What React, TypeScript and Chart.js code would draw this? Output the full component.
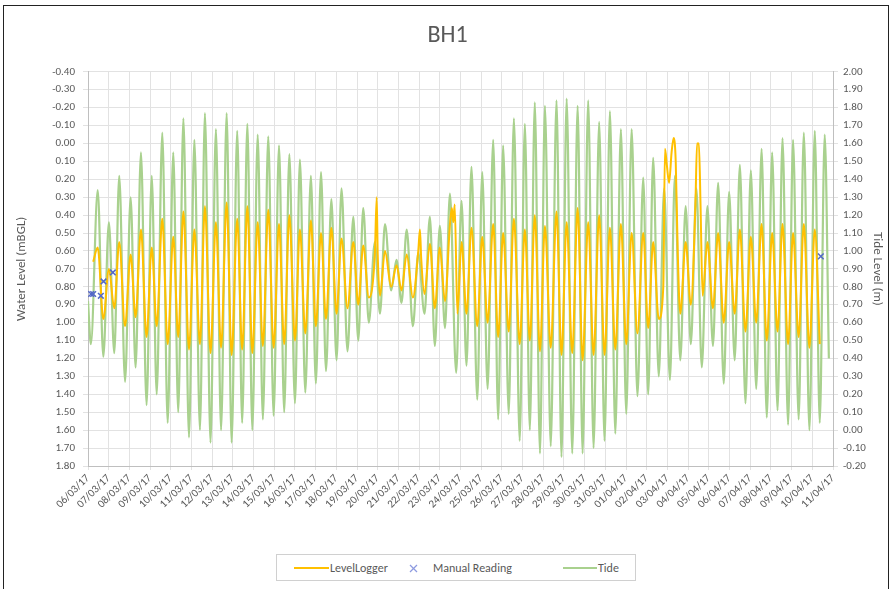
import React, { useEffect, useRef } from 'react';
import { Chart, registerables } from 'chart.js';

Chart.register(...registerables);

// ---------- DATA ----------
const dateLabels = [
  '06/03/17', '07/03/17', '08/03/17', '09/03/17', '10/03/17', '11/03/17', '12/03/17', '13/03/17',
  '14/03/17', '15/03/17', '16/03/17', '17/03/17', '18/03/17', '19/03/17', '20/03/17', '21/03/17',
  '22/03/17', '23/03/17', '24/03/17', '25/03/17', '26/03/17', '27/03/17', '28/03/17', '29/03/17',
  '30/03/17', '31/03/17', '01/04/17', '02/04/17', '03/04/17', '04/04/17', '05/04/17', '06/04/17',
  '07/04/17', '08/04/17', '09/04/17', '10/04/17', '11/04/17',
];

// Tide extremes: time in days since 06/03/17 00:00, level in m
const tideTimes = [
  0.00, 0.14, 0.47, 0.74, 1.01, 1.27, 1.51, 1.79, 2.06, 2.30,
  2.56, 2.83, 3.08, 3.32, 3.59, 3.85, 4.12, 4.36, 4.61, 4.88,
  5.14, 5.41, 5.65, 5.92, 6.18, 6.43, 6.70, 6.94, 7.21, 7.45,
  7.70, 7.94, 8.20, 8.45, 8.71, 8.97, 9.23, 9.48, 9.73, 10.00,
  10.24, 10.50, 10.77, 11.01, 11.26, 11.50, 11.76, 12.01, 12.25, 12.54,
  12.82, 13.06, 13.30, 13.57, 13.86, 14.11, 14.35, 14.65, 14.91, 15.15,
  15.40, 15.70, 15.96, 16.26, 16.52, 16.76, 17.00, 17.25, 17.49, 17.79,
  18.05, 18.29, 18.53, 18.81, 19.05, 19.31, 19.58, 19.82, 20.06, 20.33,
  20.58, 20.86, 21.11, 21.35, 21.59, 21.84, 22.08, 22.36, 22.64, 22.88,
  23.13, 23.40, 23.66, 23.90, 24.17, 24.43, 24.70, 24.96, 25.22, 25.48,
  25.75, 26.01, 26.27, 26.55, 26.83, 27.07, 27.31, 27.58, 27.84, 28.12,
  28.36, 28.62, 28.88, 29.13, 29.40, 29.66, 29.93, 30.20, 30.45, 30.72,
  30.98, 31.25, 31.50, 31.77, 32.03, 32.29, 32.55, 32.80, 33.06, 33.32,
  33.56, 33.83, 34.07, 34.34, 34.59, 34.86, 35.12, 35.36, 35.60, 35.80,
];
const tideLevels = [
  0.72, 0.48, 1.34, 0.41, 1.16, 0.43, 1.42, 0.27, 1.30, 0.35,
  1.55, 0.14, 1.42, 0.20, 1.66, 0.04, 1.55, 0.10, 1.74, -0.04,
  1.62, 0.00, 1.77, -0.07, 1.68, 0.00, 1.77, -0.07, 1.67, 0.04,
  1.71, 0.00, 1.65, 0.06, 1.64, 0.08, 1.59, 0.10, 1.54, 0.15,
  1.51, 0.21, 1.42, 0.26, 1.44, 0.33, 1.29, 0.39, 1.35, 0.44,
  1.19, 0.50, 1.24, 0.60, 1.05, 0.65, 1.15, 0.78, 0.95, 0.71,
  1.12, 0.58, 0.99, 0.65, 1.19, 0.47, 1.14, 0.57, 1.32, 0.32,
  1.28, 0.36, 1.47, 0.17, 1.44, 0.23, 1.62, 0.06, 1.59, 0.09,
  1.74, -0.06, 1.71, 0.00, 1.83, -0.13, 1.81, -0.09, 1.84, -0.15,
  1.85, -0.13, 1.81, -0.13, 1.84, -0.10, 1.72, -0.06, 1.78, -0.02,
  1.68, 0.09, 1.68, 0.19, 1.41, 0.20, 1.52, 0.30, 1.35, 0.28,
  1.42, 0.39, 1.25, 0.48, 1.35, 0.35, 1.25, 0.47, 1.38, 0.26,
  1.33, 0.39, 1.48, 0.15, 1.45, 0.23, 1.57, 0.07, 1.55, 0.11,
  1.63, 0.03, 1.62, 0.06, 1.66, 0.00, 1.67, 0.04, 1.65, 0.40,
];

// LevelLogger: time in days, water level in mBGL
const loggerTimes = [
  0.25, 0.47, 0.74, 1.01, 1.27, 1.51, 1.79, 2.06, 2.30, 2.56,
  2.83, 3.08, 3.32, 3.59, 3.85, 4.12, 4.36, 4.61, 4.88, 5.14,
  5.41, 5.65, 5.92, 6.18, 6.43, 6.70, 6.94, 7.21, 7.45, 7.70,
  7.94, 8.20, 8.45, 8.71, 8.97, 9.23, 9.48, 9.73, 10.00, 10.24,
  10.50, 10.77, 11.01, 11.26, 11.50, 11.76, 12.01, 12.25, 12.54, 12.82,
  13.06, 13.30, 13.57, 13.86, 13.95, 14.00, 14.11, 14.35, 14.65, 14.91,
  15.15, 15.40, 15.70, 15.96, 16.04, 16.10, 16.26, 16.52, 16.76, 17.00,
  17.25, 17.49, 17.58, 17.65, 17.72, 17.85, 18.05, 18.29, 18.53, 18.81,
  19.05, 19.31, 19.58, 19.82, 20.06, 20.33, 20.58, 20.86, 21.11, 21.35,
  21.59, 21.84, 22.08, 22.36, 22.64, 22.88, 23.13, 23.40, 23.66, 23.90,
  24.17, 24.43, 24.70, 24.96, 25.22, 25.48, 25.75, 26.01, 26.27, 26.55,
  26.83, 27.07, 27.31, 27.58, 27.80, 27.88, 27.97, 28.08, 28.20, 28.30,
  28.40, 28.50, 28.62, 28.88, 29.13, 29.35, 29.43, 29.52, 29.60, 29.70,
  29.93, 30.20, 30.45, 30.72, 30.98, 31.25, 31.50, 31.77, 32.03, 32.29,
  32.55, 32.80, 33.06, 33.32, 33.56, 33.83, 34.07, 34.34, 34.59, 34.86,
  35.12, 35.36,
];
const loggerLevels = [
  0.66, 0.58, 0.98, 0.70, 0.92, 0.55, 1.02, 0.62, 0.97, 0.48,
  1.08, 0.58, 1.02, 0.42, 1.12, 0.52, 1.08, 0.38, 1.15, 0.48,
  1.12, 0.35, 1.17, 0.44, 1.14, 0.33, 1.18, 0.42, 1.15, 0.35,
  1.17, 0.44, 1.13, 0.37, 1.14, 0.45, 1.12, 0.40, 1.10, 0.48,
  1.06, 0.43, 1.02, 0.50, 0.98, 0.47, 0.95, 0.53, 0.92, 0.55,
  0.90, 0.57, 0.86, 0.62, 0.30, 0.62, 0.85, 0.60, 0.80, 0.68,
  0.82, 0.62, 0.86, 0.60, 0.48, 0.64, 0.84, 0.56, 0.92, 0.58,
  0.88, 0.45, 0.36, 0.44, 0.34, 0.95, 0.55, 0.95, 0.47, 1.02,
  0.52, 1.00, 0.45, 1.08, 0.50, 1.05, 0.42, 1.12, 0.48, 1.10,
  0.40, 1.16, 0.46, 1.14, 0.38, 1.18, 0.44, 1.17, 0.36, 1.21,
  0.44, 1.18, 0.40, 1.18, 0.47, 1.15, 0.45, 1.12, 0.50, 1.06,
  0.50, 1.03, 0.55, 0.98, 0.80, 0.03, 0.12, 0.22, 0.05, -0.03,
  0.10, 0.62, 0.95, 0.55, 0.90, 0.35, 0.00, 0.00, 0.35, 0.85,
  0.55, 0.92, 0.50, 1.00, 0.55, 0.95, 0.48, 1.05, 0.52, 1.00,
  0.45, 1.10, 0.50, 1.05, 0.45, 1.12, 0.50, 1.08, 0.45, 1.14,
  0.48, 1.12,
];

// Manual readings: time in days, water level in mBGL
const manualTimes = [0.15, 0.25, 0.62, 0.75, 1.20, 35.41];
const manualLevels = [0.84, 0.84, 0.85, 0.77, 0.72, 0.63];

const waterAxis = { min: -0.4, max: 1.8, step: 0.1 };
const tideAxis = { min: -0.2, max: 2.0, step: 0.1 };

// ---------- STYLE ----------
const FONT = "Carlito, Calibri, Lato, 'Open Sans', sans-serif";
const TEXT = '#595959';
const GRID = '#e2e2e2';
const AXIS = '#bfbfbf';
const ORANGE = '#ffc000';
const GREEN = '#a9d18e';
const BLUE = '#5468c8';

function toPoints(xs: number[], ys: number[]) {
  return xs.map((x, i) => ({ x, y: ys[i] }));
}

export default function App() {
  const ref = useRef<HTMLCanvasElement | null>(null);

  useEffect(() => {
    if (!ref.current) return;
    Chart.defaults.font.family = FONT;
    const chart = new Chart(ref.current, {
      type: 'line',
      data: {
        datasets: [
          {
            label: 'Manual Reading',
            data: toPoints(manualTimes, manualLevels),
            yAxisID: 'y',
            showLine: false,
            pointStyle: 'crossRot',
            pointRadius: 4,
            pointBorderWidth: 1.5,
            borderColor: BLUE,
            backgroundColor: BLUE,
            order: 0,
          },
          {
            label: 'LevelLogger',
            data: toPoints(loggerTimes, loggerLevels),
            yAxisID: 'y',
            borderColor: ORANGE,
            backgroundColor: ORANGE,
            borderWidth: 2,
            pointRadius: 0,
            cubicInterpolationMode: 'monotone',
            order: 1,
          },
          {
            label: 'Tide',
            data: toPoints(tideTimes, tideLevels),
            yAxisID: 'y1',
            borderColor: GREEN,
            backgroundColor: GREEN,
            borderWidth: 2.2,
            pointRadius: 0,
            cubicInterpolationMode: 'monotone',
            order: 2,
          },
        ],
      },
      options: {
        responsive: false,
        animation: false,
        devicePixelRatio: 1,
        layout: { padding: 0 },
        plugins: {
          legend: { display: false },
          tooltip: { enabled: false },
          title: {
            display: true,
            text: 'BH1',
            color: TEXT,
            font: { family: FONT, size: 24, weight: 'normal' },
            padding: { top: 22, bottom: 21 },
          },
        },
        scales: {
          x: {
            type: 'linear',
            min: 0,
            max: dateLabels.length - 1,
            ticks: {
              stepSize: 1,
              autoSkip: false,
              maxRotation: 45,
              minRotation: 45,
              color: TEXT,
              font: { family: FONT, size: 11 },
              padding: 2,
              callback: (v: any) => dateLabels[Math.round(Number(v))] ?? '',
            },
            grid: { color: GRID, tickLength: 4 },
            border: { color: AXIS },
            afterFit: (s: any) => {
              s.height = 123;
            },
          },
          y: {
            position: 'left',
            reverse: true,
            min: waterAxis.min,
            max: waterAxis.max,
            ticks: {
              stepSize: waterAxis.step,
              color: TEXT,
              font: { family: FONT, size: 11 },
              padding: 8,
              callback: (v: any) => Number(v).toFixed(2),
            },
            grid: { color: GRID, tickLength: 5 },
            border: { color: AXIS },
            title: {
              display: true,
              text: 'Water Level (mBGL)',
              color: TEXT,
              font: { family: FONT, size: 13 },
              padding: { top: 14, bottom: 0 },
            },
            afterFit: (s: any) => {
              s.width = 88;
            },
          },
          y1: {
            position: 'right',
            min: tideAxis.min,
            max: tideAxis.max,
            ticks: {
              stepSize: tideAxis.step,
              color: TEXT,
              font: { family: FONT, size: 11 },
              padding: 5,
              callback: (v: any) => Number(v).toFixed(2),
            },
            grid: { drawOnChartArea: false, color: GRID, tickLength: 5 },
            border: { color: AXIS },
            title: {
              display: true,
              text: 'Tide Level (m)',
              color: TEXT,
              font: { family: FONT, size: 13 },
              padding: { top: 10, bottom: 0 },
            },
            afterFit: (s: any) => {
              s.width = 62;
            },
          },
        },
      },
    } as any);
    return () => chart.destroy();
  }, []);

  const legendText: React.CSSProperties = {
    position: 'absolute',
    top: 5,
    fontFamily: FONT,
    fontSize: 12,
    color: TEXT,
    lineHeight: '16px',
    whiteSpace: 'nowrap',
  };

  return (
    <div style={{ position: 'fixed', left: 0, top: 0, width: 895, height: 589, background: '#fff', overflow: 'hidden' }}>
      <div
        style={{
          position: 'absolute',
          left: 3,
          top: 5,
          width: 886,
          height: 600,
          border: '1px solid #222',
          boxSizing: 'border-box',
        }}
      />
      <canvas ref={ref} width={895} height={589} style={{ position: 'absolute', left: 0, top: 0 }} />
      <div
        style={{
          position: 'absolute',
          left: 276,
          top: 554,
          width: 360,
          height: 27,
          border: '1px solid #d0d0d0',
          boxSizing: 'border-box',
          background: '#fff',
        }}
      >
        <div style={{ position: 'absolute', left: 17, top: 12, width: 35, height: 2, background: ORANGE }} />
        <span style={{ ...legendText, left: 53 }}>LevelLogger</span>
        <svg style={{ position: 'absolute', left: 132, top: 9 }} width={9} height={9}>
          <line x1={1} y1={1} x2={8} y2={8} stroke="#8d9be0" strokeWidth={1.3} />
          <line x1={8} y1={1} x2={1} y2={8} stroke="#8d9be0" strokeWidth={1.3} />
        </svg>
        <span style={{ ...legendText, left: 156 }}>Manual Reading</span>
        <div style={{ position: 'absolute', left: 286, top: 12, width: 34, height: 2, background: GREEN }} />
        <span style={{ ...legendText, left: 321 }}>Tide</span>
      </div>
    </div>
  );
}
